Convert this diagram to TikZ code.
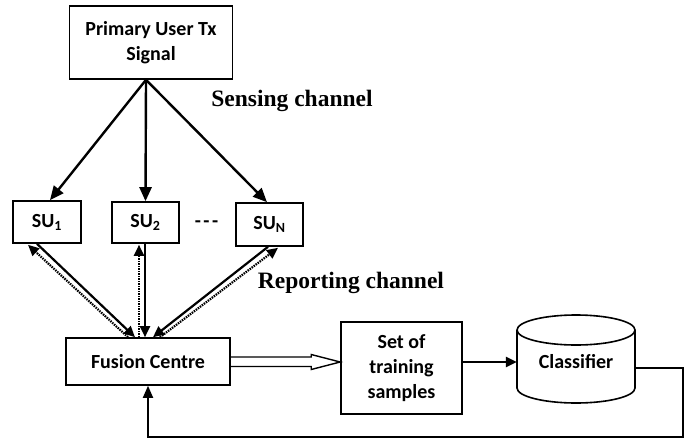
\documentclass[tikz,border=0pt]{standalone}
\usepackage{fontspec}
\usetikzlibrary{arrows.meta,calc}
\newfontfamily\calfont{Carlito}
\newfontfamily\tnrfont{Liberation Serif}
\tikzset{
  boxtext/.style={font=\calfont\bfseries\fontsize{20}{25}\selectfont, align=center},
  bx/.style={draw, line width=1.6pt, boxtext, inner sep=0pt},
  chlabel/.style={font=\tnrfont\bfseries\fontsize{23.5}{26}\selectfont, inner sep=0pt},
  sense/.style={line width=2.4pt, -{Triangle[length=14pt,width=12pt]}},
  rep/.style={line width=2.2pt, -{Triangle[length=11pt,width=10pt]}},
  repdot/.style={line width=2.2pt, dash pattern=on 1.5pt off 1pt, -{Triangle[length=11pt,width=10pt]}},
  thick arrow/.style={line width=2.6pt, -{Triangle[length=11pt,width=10pt]}},
  fbline/.style={line width=1.8pt, -{Triangle[length=12pt,width=10pt]}},
}
\begin{document}
\begin{tikzpicture}[x=1pt,y=-1pt]
\useasboundingbox (0,0) rectangle (692,441);
% nodes
\node[bx, minimum width=163pt, minimum height=73pt] (prim) at (151,42.5) {Primary User Tx\\Signal};
\node[bx, minimum width=68pt, minimum height=42pt] (su1) at (47,222) {SU\textsubscript{1}};
\node[bx, minimum width=67pt, minimum height=41pt] (su2) at (145.5,222.5) {SU\textsubscript{2}};
\node[bx, minimum width=67pt, minimum height=43pt] (suN) at (269.5,224.5) {SU\textsubscript{N}};
\node[boxtext] (dots) at (206.5,224) {{-}\kern2.5pt{-}\kern2.5pt{-}};
\node[bx, minimum width=164pt, minimum height=47pt] (fusion) at (148,361.5) {Fusion Centre};
\node[bx, minimum width=121pt, minimum height=92pt] (set) at (401.5,368) {Set of\\training\\samples};
\node[boxtext, minimum width=118pt, minimum height=10pt, inner sep=0pt] (cls) at (576,362) {Classifier};
\node[chlabel] (sensing) at (292,101) {Sensing channel};
\node[chlabel] (reporting) at (351,283) {Reporting channel};
% cylinder
\draw[line width=1.6pt] ($(cls.center)+(0,-32)$) ellipse[x radius=59pt, y radius=15pt];
\draw[line width=1.6pt] ($(cls.center)+(-59,-32)$) -- ($(cls.center)+(-59,26)$)
  arc[start angle=180, end angle=360, x radius=59pt, y radius=15pt] -- ($(cls.center)+(59,-32)$);
% sensing channel
\draw[sense] ([xshift=-5pt]prim.south) -- ([xshift=3pt]su1.north);
\draw[sense] ([xshift=-5pt]prim.south) -- (su2.north);
\draw[sense] ([xshift=-5pt]prim.south) -- ([xshift=-2.5pt]suN.north);
% reporting channel
\draw[rep] ([xshift=-10pt]su1.south) -- ([xshift=-13pt]fusion.north);
\draw[repdot] ([xshift=-20pt]fusion.north) -- ([xshift=-19pt,yshift=-1pt]su1.south);
\draw[rep] ([xshift=-0.5pt]su2.south) -- ([xshift=-3pt]fusion.north);
\draw[repdot] ([xshift=-9pt]fusion.north) -- ([xshift=-6.5pt,yshift=-1pt]su2.south);
\draw[rep] ([xshift=-1.5pt]suN.south) -- ([xshift=5pt]fusion.north);
\draw[repdot] ([xshift=12pt]fusion.north) -- ([xshift=8.5pt,yshift=-1pt]suN.south);
% hollow arrow fusion -> set
\draw[line width=1.4pt, line join=miter]
  ([yshift=4.5pt]fusion.east) -- ([xshift=-29pt,yshift=4.5pt]set.west |- fusion.east)
  -- ([xshift=-29pt,yshift=7pt]set.west |- fusion.east)
  -- ([yshift=-0.5pt]set.west |- fusion.east)
  -- ([xshift=-29pt,yshift=-8pt]set.west |- fusion.east)
  -- ([xshift=-29pt,yshift=-5pt]set.west |- fusion.east)
  -- ([yshift=-5pt]fusion.east);
% set -> classifier
\draw[thick arrow] ([yshift=6pt]set.east) -- ([yshift=6pt]set.east -| cls.west);
% feedback
\draw[fbline] ([yshift=-6pt]cls.east) -- ++(48,0) -- ++(0,69) -| (fusion.south);
\end{tikzpicture}
\end{document}
